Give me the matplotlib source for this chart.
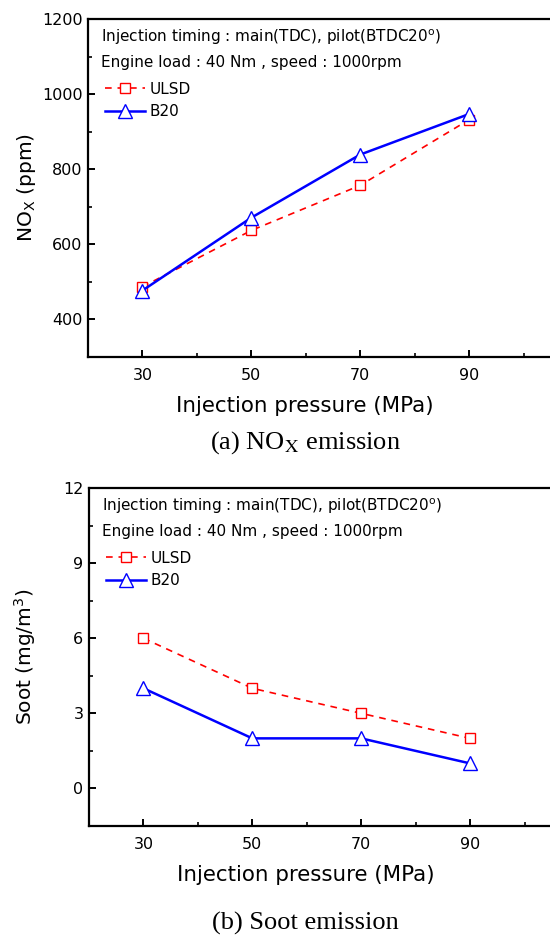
import matplotlib
matplotlib.use("Agg")
import matplotlib.pyplot as plt
from matplotlib.ticker import MultipleLocator

pressure = [30, 50, 70, 90]
nox_ulsd = [487, 637, 757, 932]
nox_b20 = [477, 671, 839, 947]
soot_ulsd = [6, 4, 3, 2]
soot_b20 = [4, 2, 2, 1]

plt.rcParams['font.family'] = ['DejaVu Sans']
fig = plt.figure(figsize=(5.5, 9.38), dpi=100)

W, H = 550, 938
def axes_px(l, t, r, b):
    return fig.add_axes([l / W, 1 - b / H, (r - l) / W, (b - t) / H])

ax1 = axes_px(88, 19, 578, 357)
ax2 = axes_px(89, 488, 579, 826)

def style(ax):
    for s in ax.spines.values():
        s.set_linewidth(1.6)
    ax.tick_params(which='major', direction='in', length=5, width=1.4, labelsize=11.5)
    ax.tick_params(axis='x', which='major', pad=8)
    ax.tick_params(axis='y', which='major', pad=4)
    ax.tick_params(which='minor', direction='in', length=3, width=1.2)
    ax.tick_params(top=False, right=False, which='both')
    ax.set_xlim(20, 110)
    ax.set_xticks(pressure)
    ax.xaxis.set_minor_locator(MultipleLocator(10))
    ax.set_xlabel('Injection pressure (MPa)', fontsize=15.4)
    ax.xaxis.set_label_coords((305 - 88) / 490, -0.115)

def draw(ax, u, b):
    ax.plot(pressure, u, color='red', ls=(0, (4, 3.5)), lw=1.2, marker='s', ms=7,
            mfc='white', mec='red', mew=1.0, label='ULSD')
    ax.plot(pressure, b, color='blue', ls='-', lw=1.8, marker='^', ms=9.5,
            mfc='white', mec='blue', mew=1.0, label='B20')
    ax.text(0.027, 0.945, 'Injection timing : main(TDC), pilot(BTDC20$^{\\rm o}$)',
            transform=ax.transAxes, fontsize=11, va='center', ha='left')
    ax.text(0.027, 0.872, 'Engine load : 40 Nm , speed : 1000rpm',
            transform=ax.transAxes, fontsize=11, va='center', ha='left')
    ax.legend(loc='upper left', bbox_to_anchor=(0.035, 0.815), frameon=False,
              fontsize=11, handlelength=2.6, handletextpad=0.3,
              labelspacing=0.5, borderaxespad=0.0, borderpad=0.0)

style(ax1)
draw(ax1, nox_ulsd, nox_b20)
ax1.set_ylim(300, 1200)
ax1.set_yticks([400, 600, 800, 1000, 1200])
ax1.yaxis.set_minor_locator(MultipleLocator(100))
ax1.set_ylabel('NO$_{\\rm X}$ (ppm)', fontsize=14.5)
ax1.yaxis.set_label_coords((38 - 88) / 490, 0.5)

style(ax2)
draw(ax2, soot_ulsd, soot_b20)
ax2.set_ylim(-1.5, 12)
ax2.set_yticks([0, 3, 6, 9, 12])
ax2.yaxis.set_minor_locator(MultipleLocator(1.5))
ax2.set_ylabel('Soot (mg/m$^{\\rm 3}$)', fontsize=14.5)
ax2.yaxis.set_label_coords((38 - 89) / 490, 0.5)

fig.text(305 / W, 1 - 443 / H, '(a) NO$_{\\rm X}$ emission', ha='center', va='center',
         fontsize=19, family='Liberation Serif', math_fontfamily='stix')
fig.text(305 / W, 1 - 923 / H, '(b) Soot emission', ha='center', va='center',
         fontsize=19, family='Liberation Serif')

fig.savefig('out.png', dpi=100)
